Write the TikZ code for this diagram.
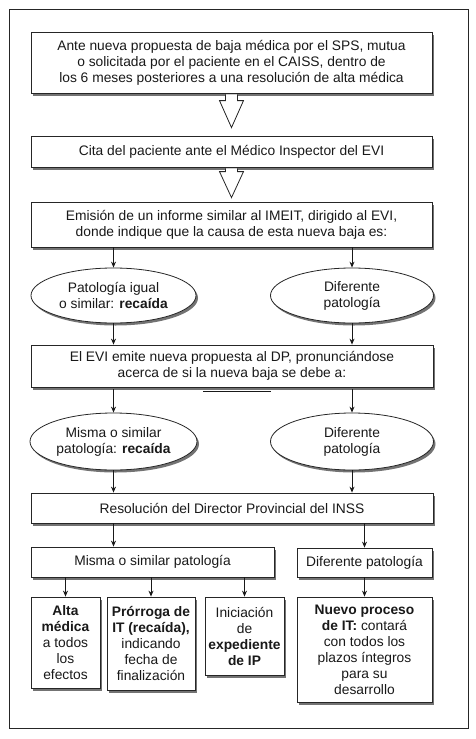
\documentclass[tikz,border=0pt]{standalone}
\usepackage{fontspec}
\setmainfont{Liberation Sans}
\usetikzlibrary{shapes.geometric,shadows,calc,arrows.meta}
\newcommand\txtf{\fontsize{13.8}{16}\selectfont}
\begin{document}
\begin{tikzpicture}[x=1pt,y=-1pt,
  shad/.style={drop shadow={shadow xshift=2pt,shadow yshift=-2.5pt,fill=black!55,opacity=1}},
  box/.style={draw=black!85,line width=0.8pt,fill=white,shad,align=center,inner sep=0pt,font=\txtf,text=black!90},
  oval/.style={ellipse,draw=black!85,line width=0.8pt,fill=white,shad,align=center,inner sep=0pt,font=\txtf,text=black!90},
  arr/.style={-{Stealth[length=6pt,width=5pt]},line width=0.9pt,draw=black!90},
  hollow/.style={draw=black!85,line width=0.8pt,fill=white,line join=miter}]
\useasboundingbox (0,0) rectangle (476,739);
\draw[black!85,line width=0.8pt] (9,9) rectangle (468,728);

\node[box,minimum width=401pt,minimum height=61pt] (b1) at (231.5,62.5)
  {Ante nueva propuesta de baja médica por el SPS, mutua\\o solicitada por el paciente en el CAISS, dentro de\\los 6 meses posteriores a una resolución de alta médica};
\node[box,minimum width=401pt,minimum height=31pt] (b2) at (231.5,151.5)
  {Cita del paciente ante el Médico Inspector del EVI};
\node[box,minimum width=401pt,minimum height=45pt] (b3) at (231.5,224.5)
  {Emisión de un informe similar al IMEIT, dirigido al EVI,\\donde indique que la causa de esta nueva baja es:};
\node[oval,minimum width=165pt,minimum height=55pt] (e1) at (113.5,295.5)
  {Patología igual\\o similar: \textbf{recaída}};
\node[oval,minimum width=163pt,minimum height=55pt] (e2) at (352,295.5)
  {Diferente\\patología};
\node[box,minimum width=402pt,minimum height=42pt] (b4) at (232,366)
  {El EVI emite nueva propuesta al DP, pronunciándose\\acerca de si la nueva baja se debe a:};
\node[oval,minimum width=167pt,minimum height=57pt] (e3) at (113.5,441.5)
  {Misma o similar\\patología: \textbf{recaída}};
\node[oval,minimum width=163pt,minimum height=57pt] (e4) at (352,441.5)
  {Diferente\\patología};
\node[box,minimum width=402pt,minimum height=30pt] (b5) at (232,508)
  {Resolución del Director Provincial del INSS};
\node[box,minimum width=243pt,minimum height=30pt] (m) at (152.5,562)
  {Misma o similar patología};
\node[box,minimum width=135pt,minimum height=29pt] (d) at (364.5,562.5)
  {Diferente patología};
\node[box,minimum width=69pt,minimum height=91pt] (fa) at (65.5,642.5)
  {\textbf{Alta}\\\textbf{médica}\\a todos\\los\\efectos};
\node[box,minimum width=88pt,minimum height=93pt] (fb) at (151,643.5)
  {\textbf{Prórroga de}\\\textbf{IT (recaída),}\\indicando\\fecha de\\finalización};
\node[box,minimum width=79pt,minimum height=78pt] (fc) at (244.5,636)
  {Iniciación\\de\\\textbf{expediente}\\\textbf{de IP}};
\node[box,minimum width=135pt,minimum height=105pt] (fd) at (364.5,649.5)
  {\textbf{Nuevo proceso}\\\textbf{de IT:} contará\\con todos los\\plazos íntegros\\para su\\desarrollo};

% dark segment under box 4
\draw[black!90,line width=1.8pt] ([xshift=-29pt,yshift=-4pt]b4.south) -- ([xshift=39pt,yshift=-4pt]b4.south);

% hollow arrows
\coordinate (a1s) at (b1.south);
\coordinate (a1t) at ($(b2.north)+(0,-8)$);
\draw[hollow] ($(a1s)+(-6,1)$) -- ($(a1t)+(-6,-27)$) -- ($(a1t)+(-12,-27)$) -- (a1t)
  -- ($(a1t)+(12,-27)$) -- ($(a1t)+(6,-27)$) -- ($(a1s)+(6,1)$);
\coordinate (a2s) at (b2.south);
\coordinate (a2t) at ($(b3.north)+(0,-4)$);
\draw[hollow] ($(a2s)+(-6,1)$) -- ($(a2t)+(-6,-26)$) -- ($(a2t)+(-12,-26)$) -- (a2t)
  -- ($(a2t)+(12,-26)$) -- ($(a2t)+(6,-26)$) -- ($(a2s)+(6,1)$);

% arrows
\draw[arr] (b3.south -| e1.center) -- (e1.north);
\draw[arr] (b3.south -| e2.center) -- (e2.north);
\draw[arr] (e1.south) -- (e1.south |- b4.north);
\draw[arr] (e2.south) -- (e2.south |- b4.north);
\draw[arr] ([yshift=-2pt]b4.south -| e3.center) -- (e3.north);
\draw[arr] ([yshift=-2pt]b4.south -| e4.center) -- (e4.north);
\draw[arr] (e3.south) -- (e3.south |- b5.north);
\draw[arr] (e4.south) -- (e4.south |- b5.north);
\draw[arr] (b5.south -| e3.center) -- (e3.center |- m.north);
\draw[arr] (b5.south -| d.center) -- (d.north);
\draw[arr] (m.south -| fa.center) -- (fa.north);
\draw[arr] (m.south -| fb.center) -- (fb.north);
\draw[arr] (m.south -| fc.center) -- (fc.north);
\draw[arr] (d.south) -- (fd.north);
\end{tikzpicture}
\end{document}
